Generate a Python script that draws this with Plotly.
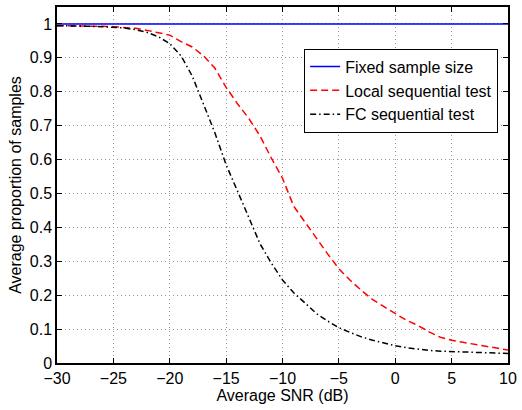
import plotly.graph_objects as go

# ---- data ----
snr_db = [-30, -29, -28, -27, -26, -25, -24, -23, -22, -21, -20,
          -19, -18, -17, -16, -15, -14, -13, -12, -11, -10,
          -9, -8, -7, -6, -5, -4, -3, -2, -1, 0,
          1, 2, 3, 4, 5, 6, 7, 8, 9, 10]

local_seq = [0.995, 0.995, 0.995, 0.994, 0.993, 0.992, 0.990, 0.987, 0.981, 0.975, 0.967,
             0.948, 0.932, 0.906, 0.870, 0.813, 0.765, 0.722, 0.670, 0.605, 0.545,
             0.462, 0.415, 0.369, 0.322, 0.278, 0.244, 0.214, 0.187, 0.166, 0.146,
             0.126, 0.111, 0.092, 0.076, 0.067, 0.061, 0.056, 0.050, 0.044, 0.038]

fc_seq = [0.995, 0.995, 0.994, 0.993, 0.992, 0.991, 0.988, 0.983, 0.975, 0.962, 0.942,
          0.906, 0.846, 0.763, 0.679, 0.585, 0.505, 0.430, 0.352, 0.295, 0.245,
          0.207, 0.177, 0.146, 0.124, 0.104, 0.090, 0.077, 0.067, 0.058, 0.051,
          0.045, 0.040, 0.037, 0.035, 0.034, 0.032, 0.031, 0.030, 0.029, 0.028]

fixed_x = [-30, 10]
fixed_y = [1.0, 1.0]

x_ticks = [-30, -25, -20, -15, -10, -5, 0, 5, 10]
y_ticks = [0, 0.1, 0.2, 0.3, 0.4, 0.5, 0.6, 0.7, 0.8, 0.9, 1]
y_tick_text = ["0", "0.1", "0.2", "0.3", "0.4", "0.5", "0.6", "0.7", "0.8", "0.9", "1"]

FONT = "Liberation Sans, Arial, Helvetica, sans-serif"

fig = go.Figure()
fig.add_trace(go.Scatter(x=fixed_x, y=fixed_y, mode="lines", name="Fixed sample size",
                         line=dict(color="#0000ff", width=1.5)))
fig.add_trace(go.Scatter(x=snr_db, y=local_seq, mode="lines", name="Local sequential test",
                         line=dict(color="#ff0000", width=1.5, dash="7px,4px")))
fig.add_trace(go.Scatter(x=snr_db, y=fc_seq, mode="lines", name="FC sequential test",
                         line=dict(color="#000000", width=1.5, dash="6px,3px,1.5px,3px")))

axis_common = dict(
    showline=True, linecolor="black", linewidth=1.5, mirror="ticks",
    ticks="inside", ticklen=5, tickcolor="black", tickwidth=1,
    showgrid=True, gridcolor="#999999", griddash="1px,3px", gridwidth=1,
    zeroline=False, tickfont=dict(family=FONT, size=16, color="black"),
)

fig.update_xaxes(range=[-30, 10], tickvals=x_ticks,
                 title=dict(text="Average SNR (dB)", font=dict(family=FONT, size=16, color="black"),
                            standoff=2),
                 **axis_common)
fig.update_yaxes(range=[0, 1.05], tickvals=y_ticks, ticktext=y_tick_text,
                 title=dict(text="Average proportion of samples",
                            font=dict(family=FONT, size=16, color="black"), standoff=4),
                 **axis_common)

fig.update_layout(
    width=522, height=410,
    margin=dict(l=57, r=9, t=5, b=47, pad=0),
    plot_bgcolor="white", paper_bgcolor="white",
    font=dict(family=FONT, size=16, color="black"),
    legend=dict(x=0.548, y=0.883, xanchor="left", yanchor="top",
                bgcolor="white", bordercolor="black", borderwidth=1,
                font=dict(family=FONT, size=16, color="black"),
                itemwidth=30, tracegroupgap=0),
    showlegend=True,
)

fig.write_html("out.html")
